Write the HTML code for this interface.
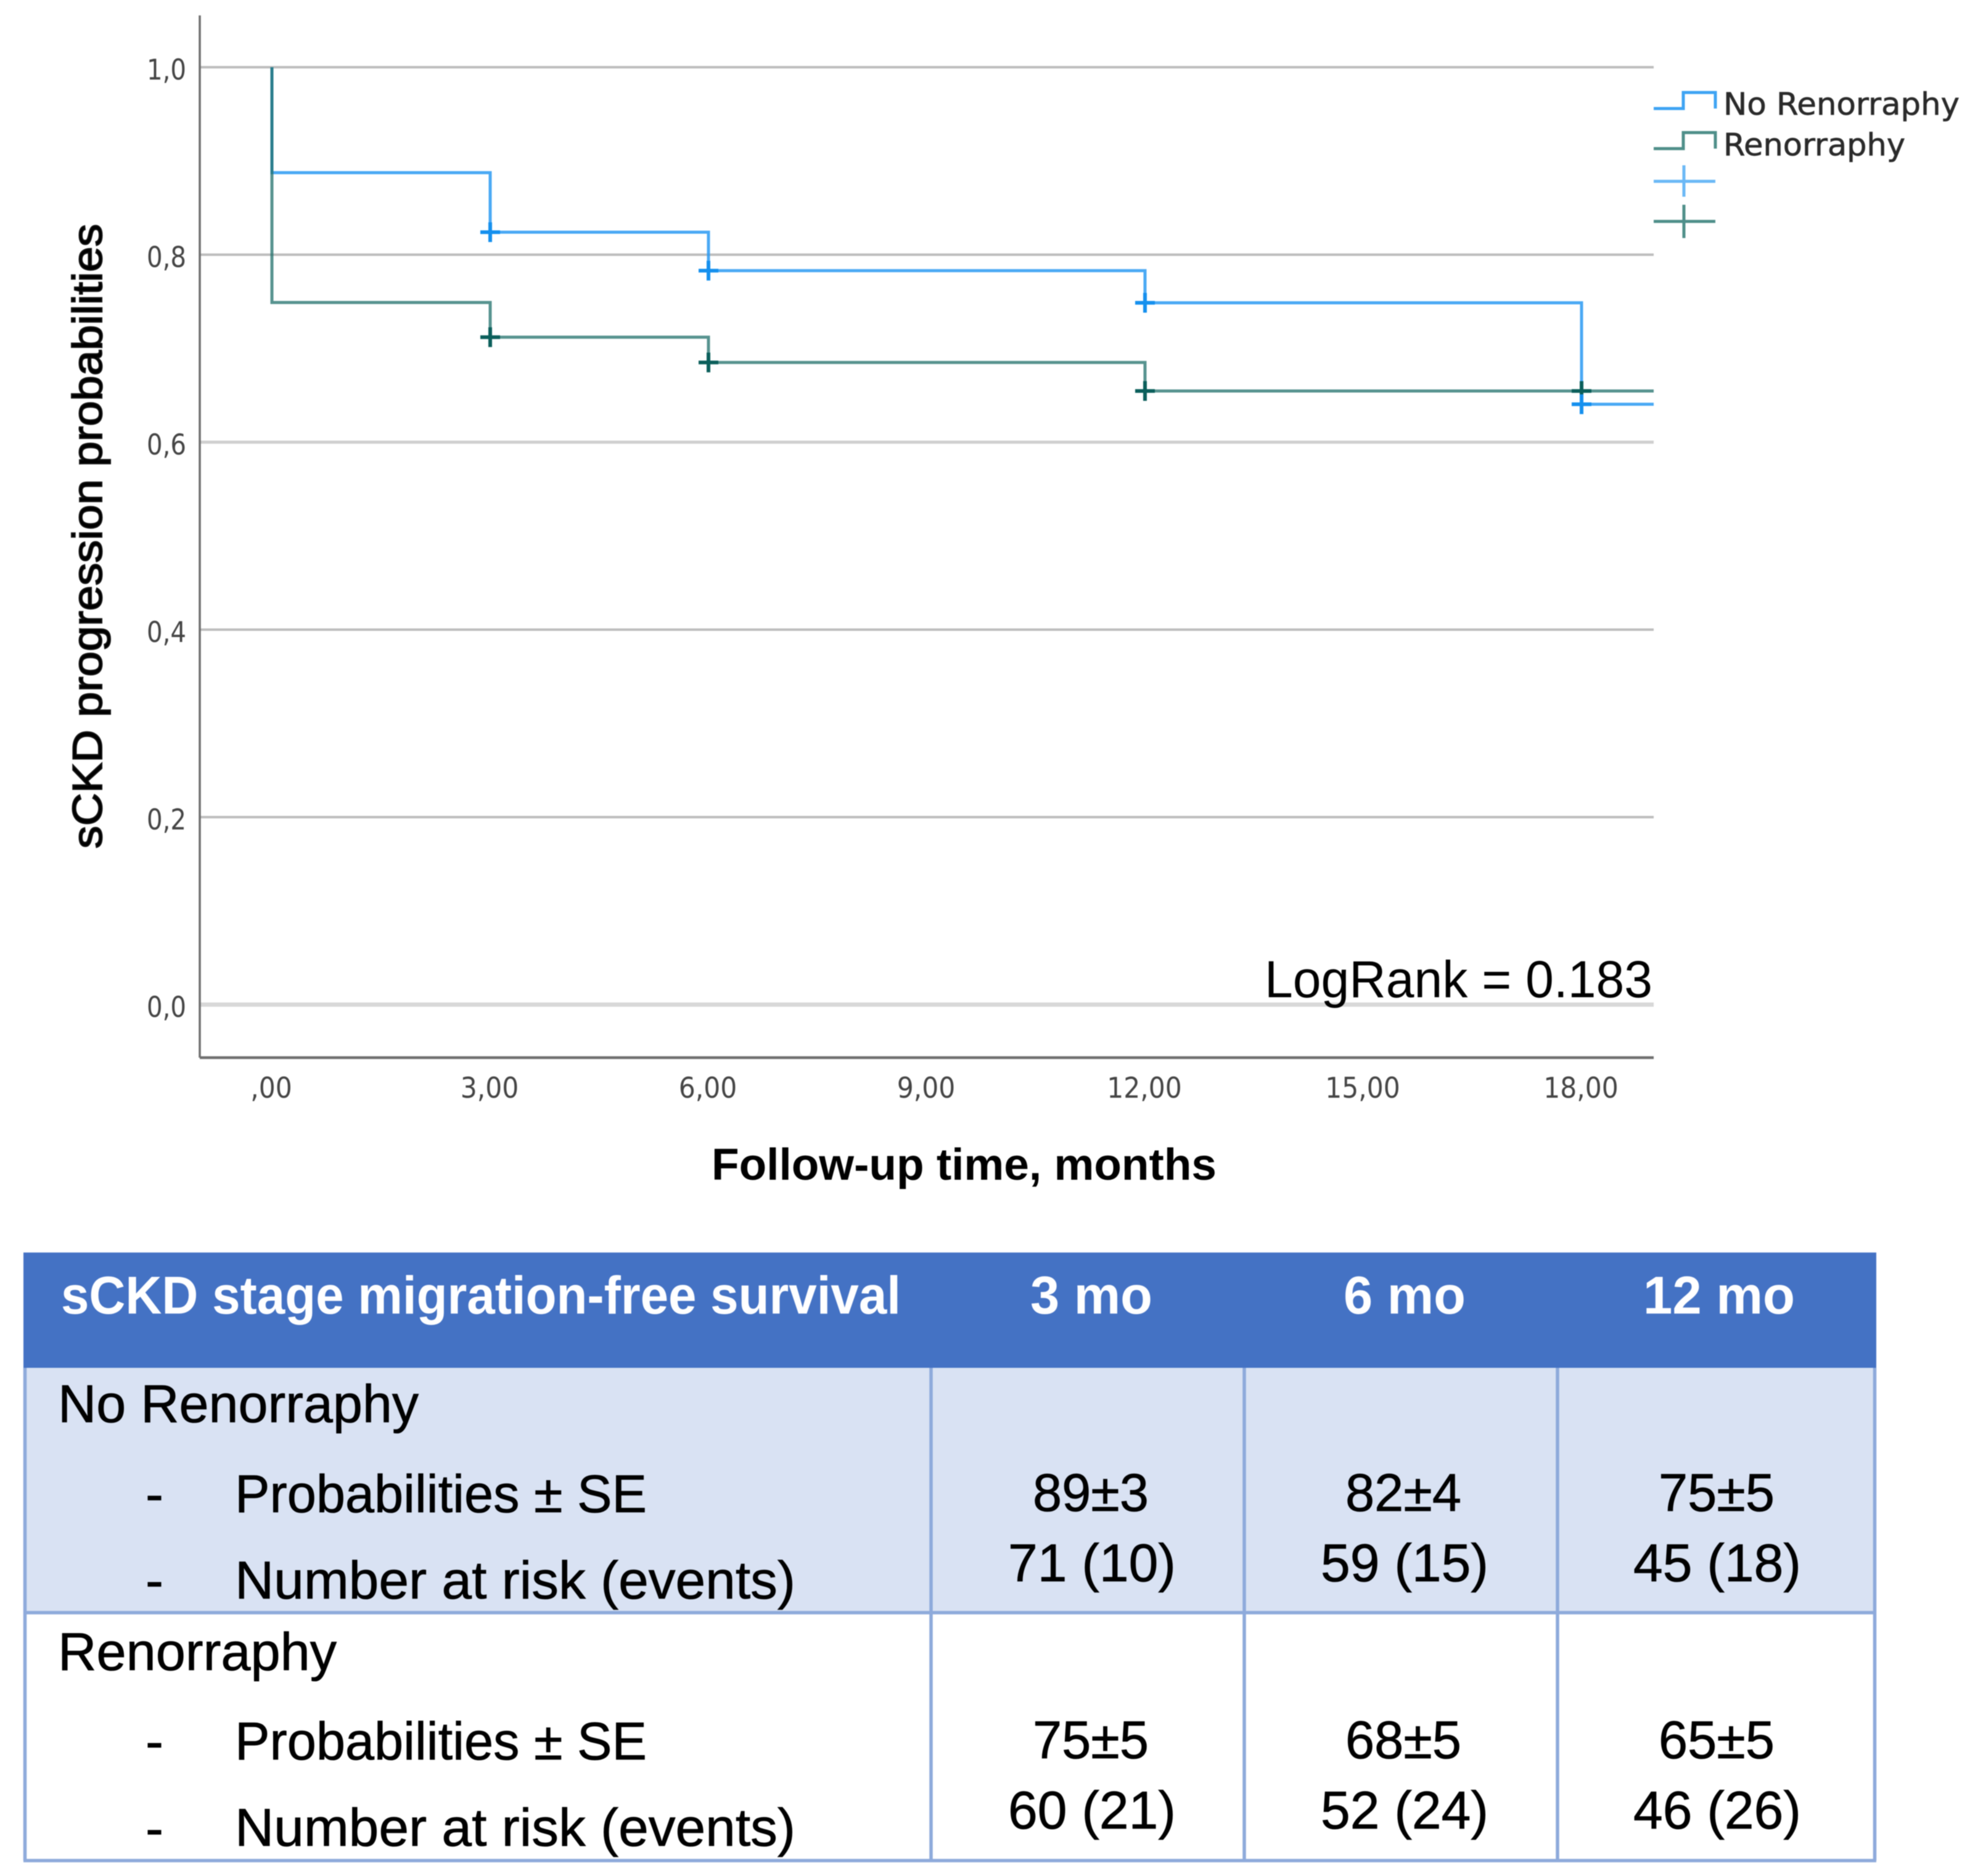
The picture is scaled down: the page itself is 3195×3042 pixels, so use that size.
<!DOCTYPE html>
<html lang="en">
<head>
<meta charset="utf-8">
<title>sCKD progression probabilities</title>
<style>
html,body{margin:0;padding:0;background:#fff;width:3195px;height:3042px;overflow:hidden}
svg{display:block;filter:blur(.7px)}
text{font-family:"Liberation Sans",sans-serif;fill:#000}
.tick{font-family:"DejaVu Sans",sans-serif;font-size:46px;fill:#444}
.legend{font-family:"DejaVu Sans",sans-serif;font-size:50px;fill:#2a2a2a;stroke:#2a2a2a;stroke-width:.7px}
.cell{font-size:86px;stroke:#000;stroke-width:.8px}
.head{font-size:86px;font-weight:bold;fill:#fff}
</style>
</head>
<body>
<svg id="root" xmlns="http://www.w3.org/2000/svg" width="3195" height="3042" viewBox="0 0 3195 3042">
  <rect width="3195" height="3042" fill="#fff"/>
  <g id="chart"></g>

  <g>
    <path d="M2682 176H2730V150H2782V176" fill="none" stroke="#3fa4f3" stroke-width="5"/>
    <text class="legend" x="2795" y="186" textLength="383" lengthAdjust="spacingAndGlyphs">No Renorraphy</text>
    <path d="M2682 241H2730V215H2782V241" fill="none" stroke="#4f8f8a" stroke-width="5"/>
    <text class="legend" x="2795" y="252" textLength="295" lengthAdjust="spacingAndGlyphs">Renorraphy</text>
    <path d="M2682 294H2782M2731 268V319" fill="none" stroke="#6bb8f6" stroke-width="5"/>
    <path d="M2682 359H2782M2731 332V386" fill="none" stroke="#4f8f8a" stroke-width="5"/>
  </g>

  <text x="2051" y="1617" font-size="84" textLength="629" lengthAdjust="spacingAndGlyphs">LogRank = 0.183</text>
  <text x="1154" y="1913" font-size="72" font-weight="bold" fill="#111" textLength="819" lengthAdjust="spacingAndGlyphs">Follow-up time, months</text>
  <text transform="translate(165 1376) rotate(-90)" font-size="68" fill="#111" stroke="#111" stroke-width="2" textLength="1013" lengthAdjust="spacingAndGlyphs">sCKD progression probabilities</text>

  <g>
    <rect x="38" y="2031" width="3005" height="187" fill="#4472c4"/>
    <rect x="38" y="2218" width="3005" height="397" fill="#d9e2f3"/>
    <rect x="38" y="2615" width="3005" height="402" fill="#fff"/>
    <path d="M40.500 2218V3017M1510 2218V3017M2018 2218V3017M2526 2218V3017M3040.500 2218V3017M38 2615H3043M38 3017H3043" fill="none" stroke="#8eaadb" stroke-width="5.500"/>

    <text class="head" x="99" y="2130" textLength="1362" lengthAdjust="spacingAndGlyphs">sCKD stage migration-free survival</text>
    <text class="head" x="1671" y="2130" textLength="198" lengthAdjust="spacingAndGlyphs">3 mo</text>
    <text class="head" x="2179" y="2130" textLength="198" lengthAdjust="spacingAndGlyphs">6 mo</text>
    <text class="head" x="2665" y="2130" textLength="246" lengthAdjust="spacingAndGlyphs">12 mo</text>

    <text class="cell" x="94" y="2306" textLength="585" lengthAdjust="spacingAndGlyphs">No Renorraphy</text>
    <text class="cell" x="236" y="2452" textLength="29" lengthAdjust="spacingAndGlyphs">-</text>
    <text class="cell" x="381" y="2452" textLength="668" lengthAdjust="spacingAndGlyphs">Probabilities ± SE</text>
    <text class="cell" x="236" y="2592" textLength="29" lengthAdjust="spacingAndGlyphs">-</text>
    <text class="cell" x="381" y="2592" textLength="909" lengthAdjust="spacingAndGlyphs">Number at risk (events)</text>

    <text class="cell" x="1675" y="2450" textLength="188" lengthAdjust="spacingAndGlyphs">89±3</text>
    <text class="cell" x="1635" y="2564" textLength="272" lengthAdjust="spacingAndGlyphs">71 (10)</text>
    <text class="cell" x="2182" y="2450" textLength="188" lengthAdjust="spacingAndGlyphs">82±4</text>
    <text class="cell" x="2142" y="2564" textLength="272" lengthAdjust="spacingAndGlyphs">59 (15)</text>
    <text class="cell" x="2690" y="2450" textLength="188" lengthAdjust="spacingAndGlyphs">75±5</text>
    <text class="cell" x="2649" y="2564" textLength="272" lengthAdjust="spacingAndGlyphs">45 (18)</text>

    <text class="cell" x="94" y="2708" textLength="452" lengthAdjust="spacingAndGlyphs">Renorraphy</text>
    <text class="cell" x="236" y="2853" textLength="29" lengthAdjust="spacingAndGlyphs">-</text>
    <text class="cell" x="381" y="2853" textLength="668" lengthAdjust="spacingAndGlyphs">Probabilities ± SE</text>
    <text class="cell" x="236" y="2994" textLength="29" lengthAdjust="spacingAndGlyphs">-</text>
    <text class="cell" x="381" y="2993" textLength="909" lengthAdjust="spacingAndGlyphs">Number at risk (events)</text>

    <text class="cell" x="1675" y="2851" textLength="188" lengthAdjust="spacingAndGlyphs">75±5</text>
    <text class="cell" x="1635" y="2965" textLength="272" lengthAdjust="spacingAndGlyphs">60 (21)</text>
    <text class="cell" x="2182" y="2851" textLength="188" lengthAdjust="spacingAndGlyphs">68±5</text>
    <text class="cell" x="2142" y="2965" textLength="272" lengthAdjust="spacingAndGlyphs">52 (24)</text>
    <text class="cell" x="2690" y="2851" textLength="188" lengthAdjust="spacingAndGlyphs">65±5</text>
    <text class="cell" x="2649" y="2965" textLength="272" lengthAdjust="spacingAndGlyphs">46 (26)</text>
  </g>
</svg>
<script>
const yTickValues = [0, 0.2, 0.4, 0.6, 0.8, 1.0];
const yTickLabels = ['0,0', '0,2', '0,4', '0,6', '0,8', '1,0'];
const xTickValues = [0, 3, 6, 9, 12, 15, 18];
const xTickLabels = [',00', '3,00', '6,00', '9,00', '12,00', '15,00', '18,00'];
const stepTimes = [0, 0, 3, 6, 12, 18];
const noRenorraphySurvival = [1.0, 0.8875, 0.824, 0.783, 0.7487, 0.6405];
const renorraphySurvival = [1.0, 0.749, 0.712, 0.685, 0.6546, 0.6546];
const censorTimes = [3, 6, 12, 18];
const noRenorraphyCensor = [0.824, 0.783, 0.7487, 0.6405];
const renorraphyCensor = [0.712, 0.685, 0.6546, 0.6546];

const SVGNS = 'http://www.w3.org/2000/svg';
const chart = document.getElementById('chart');
const xAt = t => 441 + 118 * t;
const yAt = v => 1629 - 1520 * v;
const PLOT_LEFT = 324, PLOT_RIGHT = 2682, PLOT_TOP = 25, PLOT_BOTTOM = 1715;

function make(tag, props, text) {
  const el = document.createElementNS(SVGNS, tag);
  for (const k in props) el.setAttribute(k, props[k]);
  if (text !== undefined) el.textContent = text;
  chart.appendChild(el);
  return el;
}

yTickValues.forEach((v, i) => {
  const heavy = v === 0 || v === 0.6;
  const grid = make('line', {
    x1: PLOT_LEFT, x2: PLOT_RIGHT, y1: yAt(v), y2: yAt(v),
    stroke: v === 0 ? '#d8d8d8' : heavy ? '#cfcfcf' : '#bdbdbd',
    'stroke-width': v === 0 ? 7 : heavy ? 5 : 4
  });
  
  
  const label = make('text', {
    class: 'tick', x: 302, y: yAt(v) + 20, 'text-anchor': 'end',
    textLength: 64, lengthAdjust: 'spacingAndGlyphs'
  }, yTickLabels[i]);
  
  
});

xTickValues.forEach((t, i) => {
  const label = make('text', {
    class: 'tick', x: xAt(t) - 1, y: 1780, 'text-anchor': 'middle',
    textLength: (xTickLabels[i].length - 1) * 27 + 13.5, lengthAdjust: 'spacingAndGlyphs'
  }, xTickLabels[i]);
  
  
});

const yAxis = make('line', { x1: PLOT_LEFT, x2: PLOT_LEFT, y1: PLOT_TOP, y2: PLOT_BOTTOM, stroke: '#6e6e6e', 'stroke-width': 3.5 });


const xAxis = make('line', { x1: PLOT_LEFT, x2: PLOT_RIGHT, y1: PLOT_BOTTOM, y2: PLOT_BOTTOM, stroke: '#6e6e6e', 'stroke-width': 4.5 });



function stepPath(values) {
  let d = 'M' + xAt(stepTimes[0]) + ' ' + yAt(values[0]);
  for (let i = 1; i < values.length; i++) {
    d += 'V' + yAt(values[i]);
    if (i + 1 < values.length) d += 'H' + xAt(stepTimes[i + 1]);
  }
  return d + 'H' + PLOT_RIGHT;
}

function censorPath(times, values) {
  let d = '';
  times.forEach((t, i) => {
    const x = xAt(t), y = yAt(values[i]);
    d += 'M' + (x - 16) + ' ' + y + 'H' + (x + 16) + 'M' + x + ' ' + (y - 16) + 'V' + (y + 16);
  });
  return d;
}

const curveNo = make('path', { d: stepPath(noRenorraphySurvival), fill: 'none', stroke: '#2a9af2', 'stroke-opacity': 0.85, 'stroke-width': 5 });


const curveRen = make('path', { d: stepPath(renorraphySurvival), fill: 'none', stroke: '#1f6f6a', 'stroke-opacity': 0.75, 'stroke-width': 5 });


const censorRen = make('path', { d: censorPath(censorTimes, renorraphyCensor), fill: 'none', stroke: '#0b5f5b', 'stroke-width': 6 });


const censorNo = make('path', { d: censorPath(censorTimes, noRenorraphyCensor), fill: 'none', stroke: '#1590ee', 'stroke-width': 6 });


</script>
</body>
</html>
